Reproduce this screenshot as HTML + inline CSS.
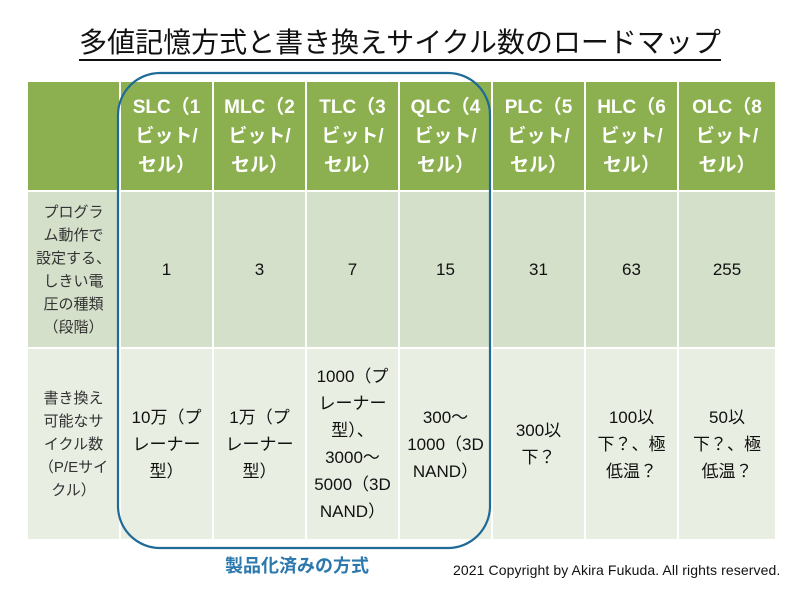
<!DOCTYPE html>
<html><head><meta charset="utf-8"><style>
body{margin:0;width:800px;height:600px;background:#fff;position:relative;overflow:hidden;font-family:"Liberation Sans","Noto Sans CJK JP",sans-serif}
#title{position:absolute;left:0;width:800px;top:21px;text-align:center;font-size:28px;color:#111;}
#title span{border-bottom:2px solid #111;padding-bottom:1px}
table{position:absolute;left:28px;top:82px;border-collapse:collapse;table-layout:fixed}
td{text-align:center;vertical-align:middle;border-left:2px solid #fff;padding:0;line-height:27px;color:#111;font-size:17px}
tr.h td{background:#8cb04f;color:#fff;font-weight:bold;font-size:19px;height:108px;line-height:29px}
tr.r1 td{background:#d5e0cb;height:155px;border-top:2px solid #fff}
tr.r2 td{background:#e9eee3;height:190px;border-top:2px solid #fff}
td.f{border-left:none;font-size:15px;line-height:23px;color:#333}
#cap{position:absolute;left:225px;top:552px;font-size:18px;font-weight:bold;color:#2b78ad}
#copy{position:absolute;left:453px;top:562px;font-size:14px;color:#111;letter-spacing:0.1px}
</style></head><body>
<div id="title"><span>多値記憶方式と書き換えサイクル数のロードマップ</span></div>
<table>
<colgroup><col style="width:92px"><col style="width:93px"><col style="width:93px"><col style="width:93px"><col style="width:93px"><col style="width:93px"><col style="width:93px"><col style="width:97px"></colgroup>
<tr class="h"><td class="f"></td>
<td>SLC（1<br>ビット/<br>セル）</td>
<td>MLC（2<br>ビット/<br>セル）</td>
<td>TLC（3<br>ビット/<br>セル）</td>
<td>QLC（4<br>ビット/<br>セル）</td>
<td>PLC（5<br>ビット/<br>セル）</td>
<td>HLC（6<br>ビット/<br>セル）</td>
<td>OLC（8<br>ビット/<br>セル）</td></tr>
<tr class="r1"><td class="f">プログラ<br>ム動作で<br>設定する、<br>しきい電<br>圧の種類<br>（段階）</td>
<td>1</td><td>3</td><td>7</td><td>15</td><td>31</td><td>63</td><td>255</td></tr>
<tr class="r2"><td class="f">書き換え<br>可能なサ<br>イクル数<br>（P/Eサイ<br>クル）</td>
<td>10万（プ<br>レーナー<br>型）</td>
<td>1万（プ<br>レーナー<br>型）</td>
<td>1000（プ<br>レーナー<br>型）、<br>3000～<br>5000（3D<br>NAND）</td>
<td>300～<br>1000（3D<br>NAND）</td>
<td>300以<br>下？</td>
<td>100以<br>下？、極<br>低温？</td>
<td>50以<br>下？、極<br>低温？</td></tr>
</table>
<svg style="position:absolute;left:0;top:0" width="800" height="600"><rect x="118" y="73" width="372" height="475" rx="42" fill="none" stroke="#1f6a96" stroke-width="2.2"/></svg>
<div id="cap">製品化済みの方式</div>
<div id="copy">2021 Copyright by Akira Fukuda. All rights reserved.</div>
</body></html>
